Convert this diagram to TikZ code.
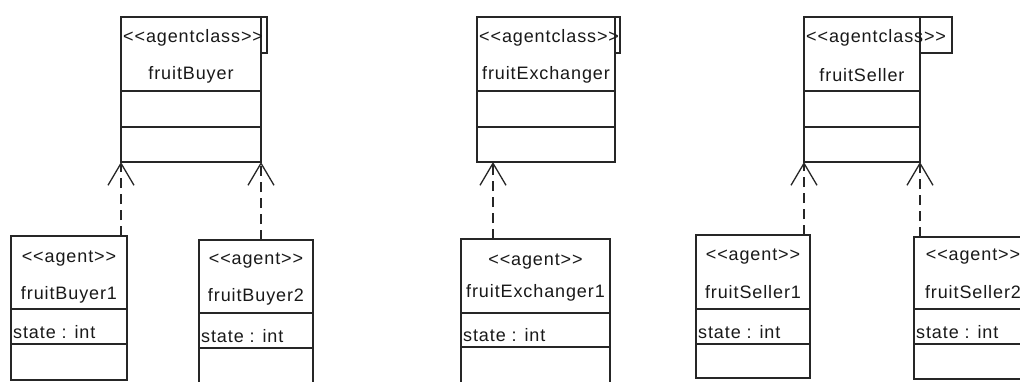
\documentclass[tikz,border=0pt]{standalone}
\usepackage{fontspec}
\newfontfamily\umlfont{Liberation Sans}[LetterSpace=5]
\usetikzlibrary{arrows.meta,calc}
\begin{document}
\begin{tikzpicture}[x=1pt,y=-1pt,
  box/.style={draw=black!85, line width=1.4pt, fill=white, inner sep=0pt, outer sep=0pt, anchor=north west},
  txt/.style={font=\umlfont\fontsize{18}{20}\selectfont, text=black!90, inner sep=0pt},
  div/.style={draw=black!85, line width=1.4pt},
  dep/.style={draw=black!85, line width=1.4pt, dash pattern=on 10pt off 6pt,
    -{Straight Barb[length=22pt,width=26pt,line width=1.3pt]}}]
\clip (0,0) rectangle (1020,381);
\fill[white] (0,0) rectangle (1020,381);
% ---------- classes ----------
\node[box, minimum width=140pt, minimum height=145pt] (fb) at (121,17) {};
\draw[div] (121,91) -- (261,91) (121,127) -- (261,127);
\draw[div] (261,17) rectangle (267,53);
\node[txt, anchor=west] (fbs) at (123,38) {<{}<agentclass>{}>};
\node[txt] (fbn) at (191,75) {fruitBuyer};

\node[box, minimum width=138pt, minimum height=145pt] (fx) at (477,17) {};
\draw[div] (477,91) -- (615,91) (477,127) -- (615,127);
\draw[div] (615,17) rectangle (620,53);
\node[txt, anchor=west] (fxs) at (479,38) {<{}<agentclass>{}>};
\node[txt] (fxn) at (546,75) {fruitExchanger};

\node[box, minimum width=116pt, minimum height=145pt] (fs) at (804,17) {};
\draw[div] (804,91) -- (920,91) (804,127) -- (920,127);
\draw[div] (920,17) rectangle (952,53);
\node[txt, anchor=west] (fss) at (806,38) {<{}<agentclass>{}>};
\node[txt] (fsn) at (862,75) {fruitSeller};
% ---------- agents ----------
\node[box, minimum width=116pt, minimum height=144pt] (b1) at (11,236) {};
\draw[div] (11,309) -- (127,309) (11,344) -- (127,344);
\node[txt] (b1s) at (69,259) {<{}<agent>{}>};
\node[txt] (b1n) at (69,295) {fruitBuyer1};
\node[txt, anchor=west] (b1a) at (13,332) {state : int};

\node[box, minimum width=114pt, minimum height=160pt] (b2) at (199,240) {};
\draw[div] (199,313) -- (313,313) (199,348) -- (313,348);
\node[txt] (b2s) at (256,261) {<{}<agent>{}>};
\node[txt] (b2n) at (256,297) {fruitBuyer2};
\node[txt, anchor=west] (b2a) at (201,336) {state : int};

\node[box, minimum width=149pt, minimum height=160pt] (ex) at (461,239) {};
\draw[div] (461,313) -- (610,313) (461,347) -- (610,347);
\node[txt] (exs) at (535.5,262) {<{}<agent>{}>};
\node[txt] (exn) at (535.5,293) {fruitExchanger1};
\node[txt, anchor=west] (exa) at (463,335) {state : int};

\node[box, minimum width=114pt, minimum height=143pt] (s1) at (696,235) {};
\draw[div] (696,309) -- (810,309) (696,344) -- (810,344);
\node[txt] (s1s) at (753,257) {<{}<agent>{}>};
\node[txt] (s1n) at (753,292) {fruitSeller1};
\node[txt, anchor=west] (s1a) at (698,332) {state : int};

\node[box, minimum width=118pt, minimum height=142pt] (s2) at (914,237) {};
\draw[div] (914,309) -- (1032,309) (914,344) -- (1032,344);
\node[txt] (s2s) at (973,257) {<{}<agent>{}>};
\node[txt] (s2n) at (973,292) {fruitSeller2};
\node[txt, anchor=west] (s2a) at (916,332) {state : int};
% ---------- dependencies ----------
\draw[dep] (fb.south west |- b1.north) -- (fb.south west);
\draw[dep] (fb.south east |- b2.north) -- (fb.south east);
\coordinate (xa) at ($(fx.south west)+(16,0)$);
\draw[dep] (xa |- ex.north) -- (xa);
\draw[dep] (fs.south west |- s1.north) -- (fs.south west);
\draw[dep] (fs.south east |- s2.north) -- (fs.south east);
\end{tikzpicture}
\end{document}
